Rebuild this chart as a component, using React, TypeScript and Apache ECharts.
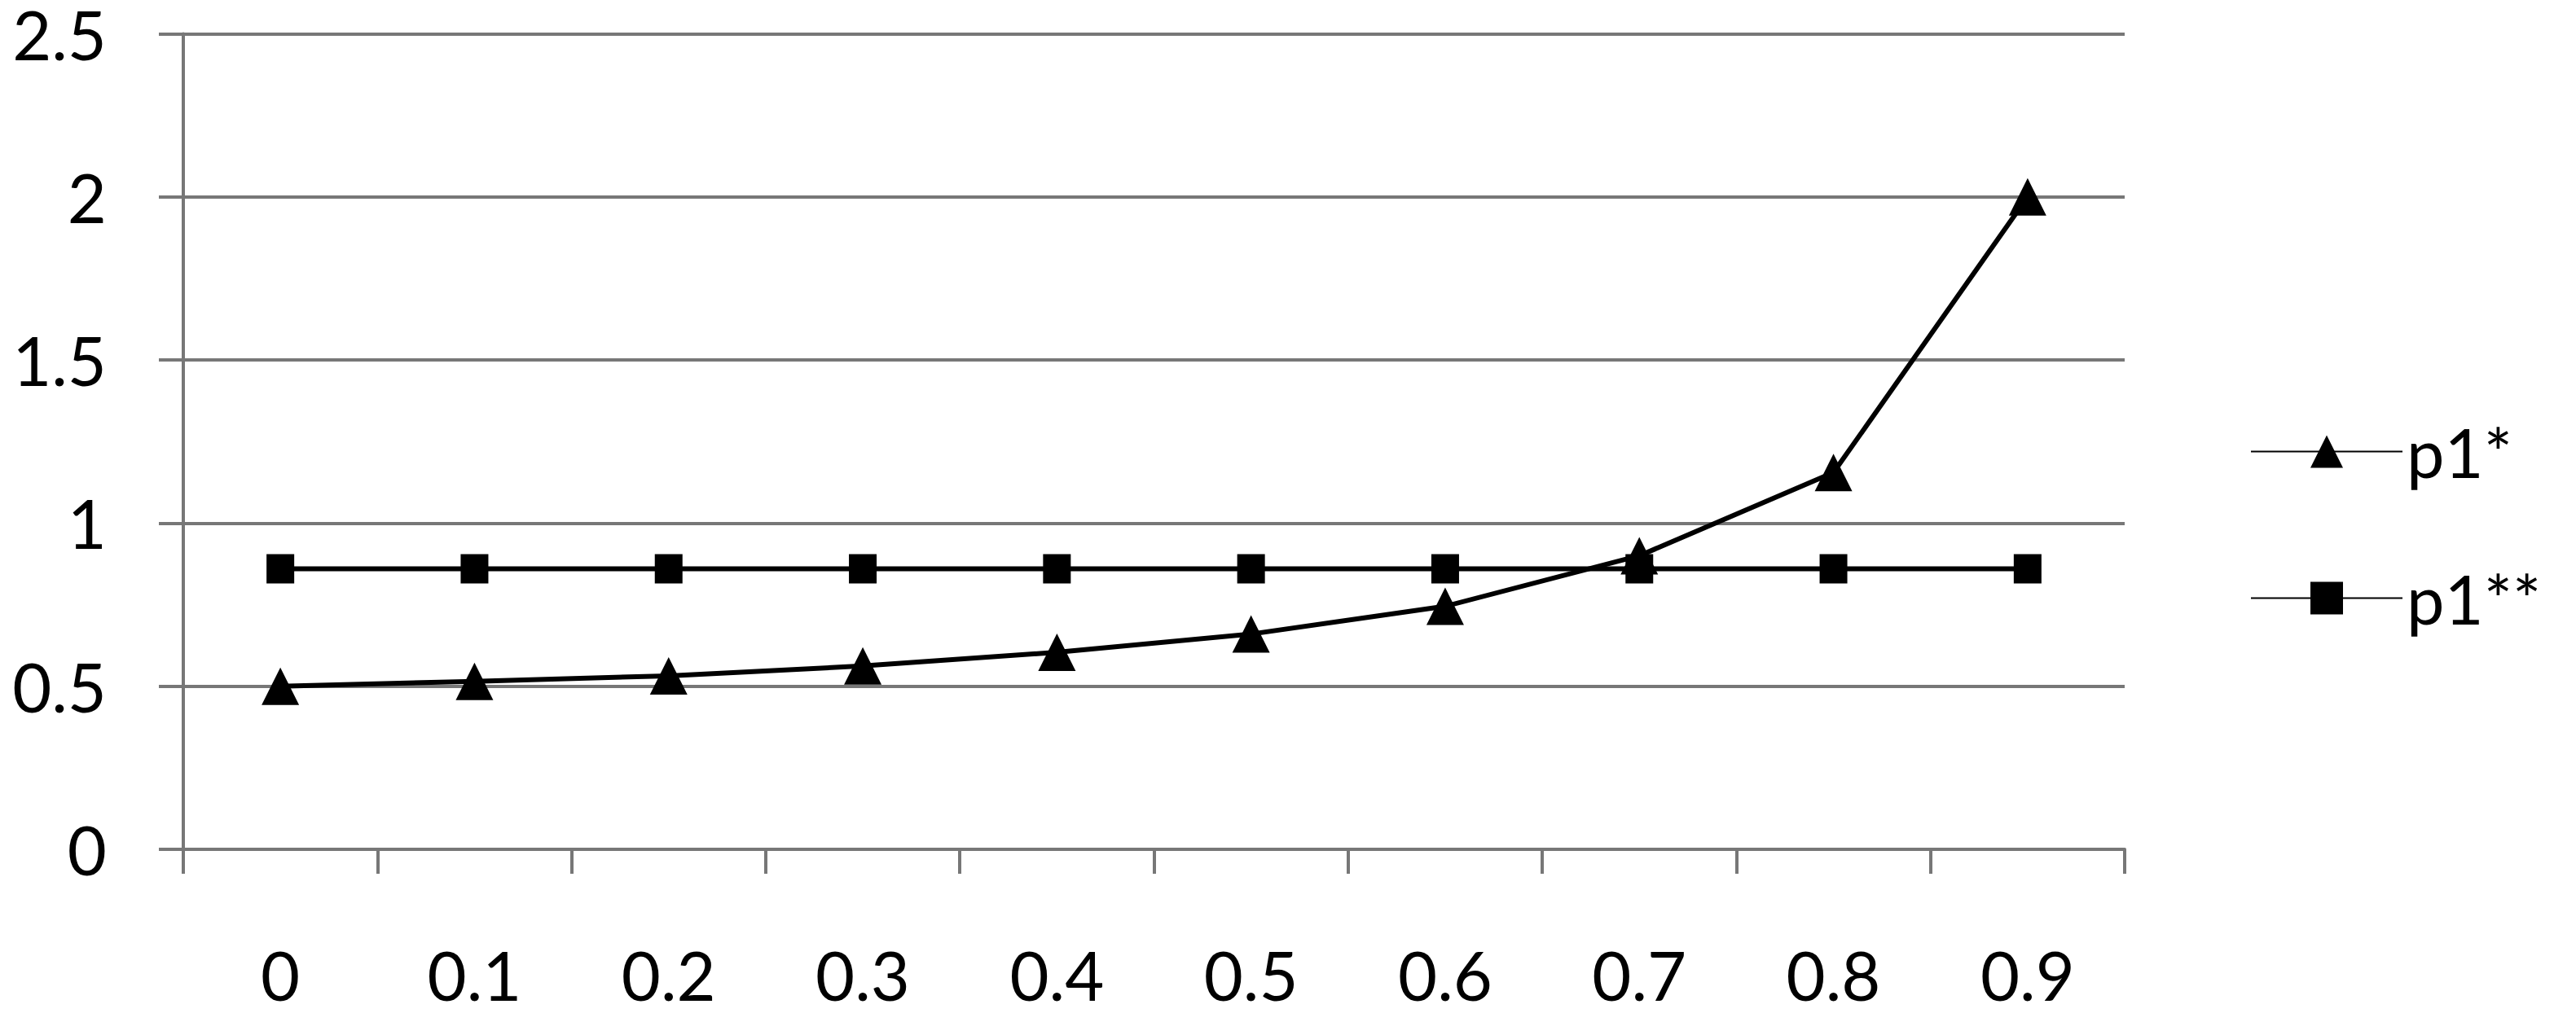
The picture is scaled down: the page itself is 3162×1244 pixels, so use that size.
import React, { useEffect, useRef } from "react";
import * as echarts from "echarts";

const categories = ["0", "0.1", "0.2", "0.3", "0.4", "0.5", "0.6", "0.7", "0.8", "0.9"];
const p1Star = [0.5, 0.515, 0.532, 0.562, 0.604, 0.66, 0.745, 0.9, 1.155, 2.0];
const p1StarStar = [0.86, 0.86, 0.86, 0.86, 0.86, 0.86, 0.86, 0.86, 0.86, 0.86];
const seriesNames = ["p1*", "p1**"];
const yMin = 0;
const yMax = 2.5;
const yStep = 0.5;

const FONT = "Lato";
const GREY = "#777777";

export default function App() {
  const ref = useRef<HTMLDivElement>(null);
  useEffect(() => {
    if (!ref.current) return;
    const chart = echarts.init(ref.current, undefined, { renderer: "svg" });
    chart.setOption({
      animation: false,
      backgroundColor: "#ffffff",
      textStyle: { fontFamily: FONT },
      grid: { left: 225, right: 554, top: 37, bottom: 201, containLabel: false },
      xAxis: {
        type: "category",
        data: categories,
        boundaryGap: true,
        axisLine: { show: true, lineStyle: { color: GREY, width: 4 } },
        axisTick: { show: true, length: 30, interval: 0, lineStyle: { color: GREY, width: 4 } },
        axisLabel: {
          interval: 0,
          margin: 154,
          verticalAlign: "middle",
          lineHeight: 62,
          fontSize: 83,
          fontFamily: FONT,
          color: "#000",
        },
        splitLine: { show: false },
      },
      yAxis: {
        type: "value",
        min: yMin,
        max: yMax,
        interval: yStep,
        axisLine: { show: true, lineStyle: { color: GREY, width: 4 } },
        axisTick: { show: true, length: 30, lineStyle: { color: GREY, width: 4 } },
        axisLabel: {
          margin: 94,
          fontSize: 83,
          lineHeight: 62,
          fontFamily: FONT,
          color: "#000",
          formatter: (v: number) => String(v),
        },
        splitLine: { show: true, lineStyle: { color: GREY, width: 4 } },
      },
      legend: {
        orient: "vertical",
        left: 2757,
        top: 508,
        itemWidth: 186,
        itemHeight: 50,
        itemGap: 97,
        textStyle: { fontSize: 83, fontFamily: FONT, color: "#000", lineHeight: 80, padding: [0, 0, 0, 0] },
        data: seriesNames,
      },
      series: [
        {
          name: seriesNames[0],
          type: "line",
          data: p1Star,
          symbol: "triangle",
          symbolSize: 46,
          lineStyle: { color: "#000", width: 6 },
          itemStyle: { color: "#000" },
          z: 3,
        },
        {
          name: seriesNames[1],
          type: "line",
          data: p1StarStar,
          symbol: "rect",
          symbolSize: [34, 36],
          lineStyle: { color: "#000", width: 6 },
          itemStyle: { color: "#000" },
          z: 4,
        },
      ],
    });
    return () => chart.dispose();
  }, []);
  return (
    <div
      ref={ref}
      style={{ position: "absolute", left: 0, top: 0, width: 3162, height: 1244, background: "#fff" }}
    />
  );
}
